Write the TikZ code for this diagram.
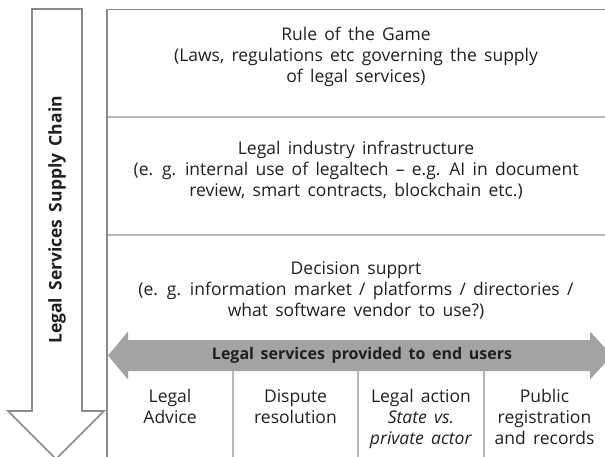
\documentclass[tikz,border=0pt]{standalone}
\usepackage{fontspec}
\setmainfont[WordSpace=1.6]{Open Sans}
\definecolor{frameline}{HTML}{8A8A8A}
\definecolor{divline}{HTML}{B8B8B8}
\definecolor{arrowfill}{HTML}{A3A3A3}
\definecolor{txt}{HTML}{231F20}
\begin{document}
\begin{tikzpicture}[x=1pt,y=-1pt,
  boxtext/.style={align=center,text=txt,font=\fontsize{17.5}{21}\selectfont,inner sep=0pt},
  coltext/.style={boxtext,anchor=north},
  frame/.style={draw=frameline,line width=1.6pt},
  divider/.style={draw=divline,line width=1.2pt}]
\useasboundingbox (0,0) rectangle (605,457);
% left supply chain arrow
\draw[frame,line join=miter,fill=white] (32,9) -- (82,9) -- (82,411) -- (104,411) -- (56,459) -- (8,411) -- (32,411) -- cycle;
\node[rotate=90,text=txt,font=\fontsize{17.5}{20}\selectfont\bfseries] (chain) at (57,220) {Legal Services Supply Chain};
% right frame
\coordinate (ftl) at (107,9.5);
\coordinate (ftr) at (606,9.5);
\coordinate (fbl) at (107,458);
\draw[divider] (107,117) coordinate (d1l) -- (606,117) coordinate (d1r);
\draw[divider] (107,235) coordinate (d2l) -- (606,235) coordinate (d2r);
\draw[frame] (ftr) -- (ftl) -- (fbl);
% layer texts
\node[boxtext] (rules) at (356,57) {Rule of the Game\\(Laws, regulations etc governing the supply\\of legal services)};
\node[boxtext] (infra) at (356,170) {Legal industry infrastructure\\(e. g. internal use of legaltech -- e.g. AI in document\\review, smart contracts, blockchain etc.)};
\node[boxtext] (decision) at (356,290) {Decision supprt\\(e. g. information market / platforms / directories /\\what software vendor to use?)};
% column dividers
\draw[divider] (233,371) coordinate (c1t) -- (233,458) coordinate (c1b);
\draw[divider] (358,371) coordinate (c2t) -- (358,458) coordinate (c2b);
\draw[divider] (484,371) coordinate (c3t) -- (484,458) coordinate (c3b);
% double arrow
\fill[arrowfill] (108,355.5) -- (128,331.5) -- (128,340) -- (590,340) -- (590,331.5) -- (612,355.5) -- (590,379.5) -- (590,371) -- (128,371) -- (128,379.5) -- cycle;
\node[text=txt,font=\fontsize{16}{21}\selectfont\bfseries] (users) at (362,355) {Legal services provided to end users};
% columns
\node[coltext] (advice) at (170,389) {Legal\\Advice};
\node[coltext] (dispute) at (295.5,389) {Dispute\\resolution};
\node[coltext] (action) at (421,389) {Legal action\\\textit{State vs.}\\\textit{private actor}};
\node[coltext] (public) at (544.5,389) {Public\\registration\\and records};
\end{tikzpicture}
\end{document}
